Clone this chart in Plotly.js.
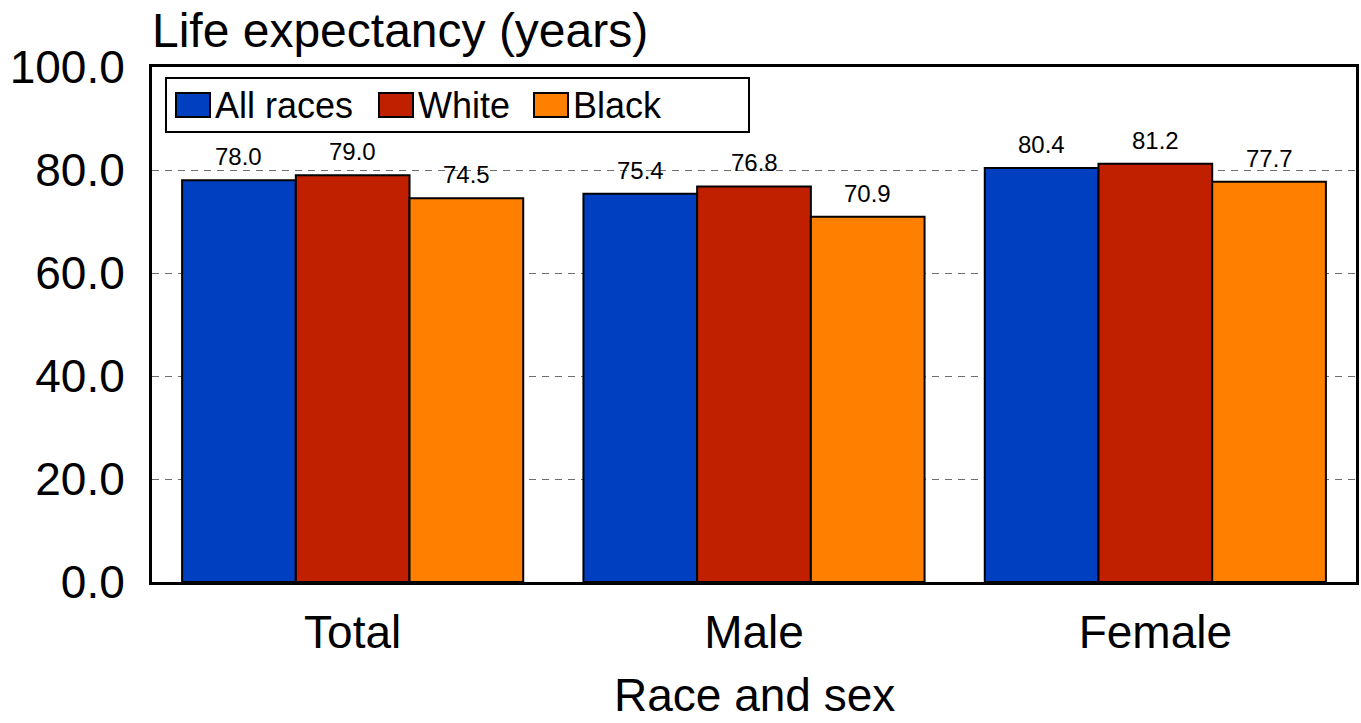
<!DOCTYPE html>
<html>
<head>
<meta charset="utf-8">
<script src="https://cdn.plot.ly/plotly-3.0.1.min.js"></script>
<style>
  html, body { margin: 0; padding: 0; background: #ffffff; }
  #chart { width: 1361px; height: 723px; }
</style>
</head>
<body>
<div id="chart"></div>
<script>
const categories = ["Total", "Male", "Female"];
const seriesNames = ["All races", "White", "Black"];
const allRaces = [78.0, 75.4, 80.4];
const white = [79.0, 76.8, 81.2];
const black = [74.5, 70.9, 77.7];
const seriesColors = ["#0040C0", "#C02000", "#FF8000"];
const yTitle = "Life expectancy (years)";
const xTitle = "Race and sex";

const seriesValues = [allRaces, white, black];
const FONT = "Liberation Sans, Arial, sans-serif";
const W = 1361, H = 723;
const M = { l: 152, r: 5, t: 67, b: 141 };
const PW = W - M.l - M.r, PH = H - M.t - M.b;
const bargap = 0.15;
const nSeries = seriesValues.length;
const barW = (1 - bargap) / nSeries;

const traces = seriesValues.map((vals, j) => ({
  type: "bar",
  name: seriesNames[j],
  x: categories,
  y: vals,
  marker: { color: seriesColors[j], line: { color: "#000000", width: 2 } },
  hoverinfo: "x+y+name",
  showlegend: false
}));

const annotations = [];
seriesValues.forEach((vals, j) => {
  vals.forEach((v, i) => {
    annotations.push({
      x: i + (j - (nSeries - 1) / 2) * barW,
      y: v,
      xref: "x", yref: "y",
      text: v.toFixed(1),
      showarrow: false,
      yanchor: "bottom",
      yshift: 8,
      font: { family: FONT, size: 24, color: "#000000" }
    });
  });
});

// custom legend (pixel layout converted to paper coordinates)
const px = x => (x - M.l) / PW;
const py = y => (H - M.b - y) / PH;
const shapes = [];
shapes.push({
  type: "rect", xref: "paper", yref: "paper",
  x0: px(166), x1: px(749), y0: py(132), y1: py(78),
  line: { color: "#000000", width: 2 }, fillcolor: "#ffffff", layer: "above"
});
const legendSwatchX = [176, 379, 534];
seriesNames.forEach((name, j) => {
  const sx = legendSwatchX[j];
  shapes.push({
    type: "rect", xref: "paper", yref: "paper",
    x0: px(sx), x1: px(sx + 34), y0: py(117), y1: py(93),
    line: { color: "#000000", width: 2 }, fillcolor: seriesColors[j], layer: "above"
  });
  annotations.push({
    xref: "paper", yref: "paper",
    x: px(sx + 37), y: py(105),
    xanchor: "left", yanchor: "middle",
    text: name, showarrow: false,
    font: { family: FONT, size: 36, color: "#000000" }
  });
});

// x-axis title placed below tick labels
annotations.push({
  xref: "paper", yref: "paper",
  x: 0.5, y: py(695),
  xanchor: "center", yanchor: "middle",
  text: xTitle, showarrow: false,
  font: { family: FONT, size: 46, color: "#000000" }
});

const layout = {
  width: W,
  height: H,
  paper_bgcolor: "#ffffff",
  plot_bgcolor: "#ffffff",
  margin: M,
  barmode: "group",
  bargap: bargap,
  bargroupgap: 0,
  font: { family: FONT, color: "#000000" },
  title: {
    text: yTitle,
    font: { family: FONT, size: 48, color: "#000000" },
    x: 152 / W, xref: "container", xanchor: "left",
    y: 1 - 13 / H, yref: "container", yanchor: "top"
  },
  xaxis: {
    type: "category",
    showline: true, linecolor: "#000000", linewidth: 3, mirror: true,
    ticks: "", ticklabelstandoff: 8,
    tickfont: { family: FONT, size: 46, color: "#000000" },
    showgrid: false, zeroline: false
  },
  yaxis: {
    range: [0, 100],
    dtick: 20,
    tickformat: ".1f",
    showline: true, linecolor: "#000000", linewidth: 3, mirror: true,
    ticks: "", ticklabelstandoff: 15,
    tickfont: { family: FONT, size: 46, color: "#000000" },
    showgrid: true, gridcolor: "#6e6e6e", gridwidth: 1, griddash: "7px,6px",
    zeroline: false
  },
  showlegend: false,
  shapes: shapes,
  annotations: annotations
};

Plotly.newPlot("chart", traces, layout, { displayModeBar: false, staticPlot: true });
</script>
</body>
</html>
